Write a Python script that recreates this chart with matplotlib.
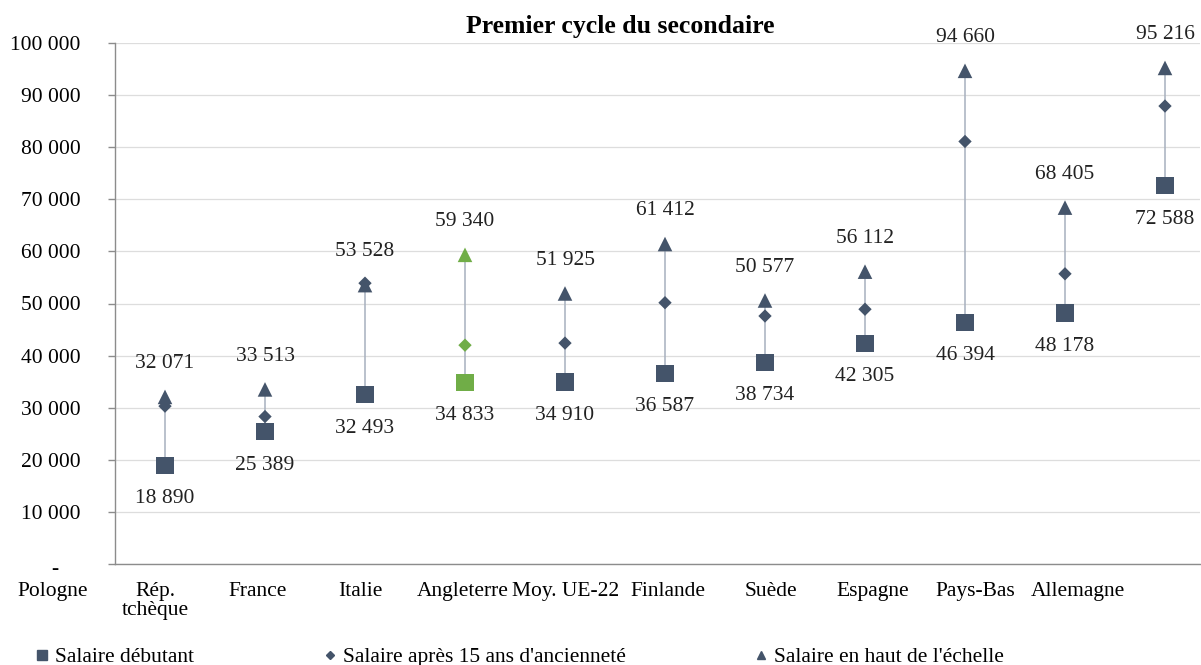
import numpy as np
import matplotlib.pyplot as plt
from matplotlib.lines import Line2D

# data
labels = ["Pologne", "Rép.\ntchèque", "France", "Italie", "Angleterre", "Moy. UE-22",
          "Finlande", "Suède", "Espagne", "Pays-Bas", "Allemagne"]
debutant = [18890, 25389, 32493, 34833, 34910, 36587, 38734, 42305, 46394, 48178, 72588]
apres15 = [30300, 28300, 53900, 42000, 42400, 50150, 47600, 48900, 81100, 55700, 87900]
haut = [32071, 33513, 53528, 59340, 51925, 61412, 50577, 56112, 94660, 68405, 95216]
highlight = 3  # Angleterre in green

blue = "#44546A"
green = "#70AD47"


def fmt(v):
    return f"{int(round(v)):,}".replace(",", " ")


def main():
    plt.rcParams['font.family'] = ['Liberation Serif', 'DejaVu Serif']
    fig = plt.figure(figsize=(12.01, 6.65), dpi=100)
    ax = fig.add_axes([115 / 1201, 1 - 564 / 665, 1085 / 1201, 521 / 665])

    x = np.arange(len(debutant))
    cols = [green if i == highlight else blue for i in x]

    # connectors
    ax.vlines(x, debutant, haut, color="#A7B0BE", lw=1.1, zorder=2)

    ax.scatter(x, debutant, marker="s", s=12.5 ** 2, c=cols, zorder=3, linewidths=0)
    ax.scatter(x, apres15, marker="D", s=6.8 ** 2, c=cols, zorder=4, linewidths=0)
    ax.scatter(x, haut, marker="^", s=10.5 ** 2, c=cols, zorder=5, linewidths=0)

    # value labels
    for xi, lo, hi in zip(x, debutant, haut):
        ax.annotate(fmt(hi), (xi, hi), xytext=(0, 24), textcoords="offset points",
                    ha="center", va="center", fontsize=15.5, color="#222222")
        ax.annotate(fmt(lo), (xi, lo), xytext=(0, -24), textcoords="offset points",
                    ha="center", va="center", fontsize=15.5, color="#222222")

    ax.set_xlim(-0.5, 10.35)
    ax.set_ylim(0, 100000)
    ax.set_yticks(np.arange(0, 100001, 10000))
    ax.set_yticklabels(["" if v == 0 else fmt(v) for v in ax.get_yticks()], fontsize=15.5)
    ax.annotate("-", (0, 0), xycoords=("axes fraction", "data"), xytext=(-43, -4),
                textcoords="offset points", ha="center", va="center", fontsize=15.5)
    ax.tick_params(axis="y", length=5, pad=20, color="#8C8C8C", width=1)
    ax.set_xticks([])
    ax.grid(axis="y", color="#DDDDDD", lw=0.9)
    ax.set_axisbelow(True)
    for s in ["top", "right"]:
        ax.spines[s].set_visible(False)
    for s in ["left", "bottom"]:
        ax.spines[s].set_color("#8C8C8C")
        ax.spines[s].set_linewidth(1)

    # category labels (evenly spaced, slightly off the points as in the original)
    lab_x = np.arange(len(labels)) * 1.025 - 1.12
    for lx, name in zip(lab_x, labels):
        ax.annotate(name, (lx, 0), xycoords=("data", "axes fraction"), xytext=(0, -13),
                    textcoords="offset points", ha="center", va="top", fontsize=15.5,
                    linespacing=1.0, annotation_clip=False)

    fig.text(620 / 1201, 1 - 26 / 665, "Premier cycle du secondaire", ha="center",
             va="center", fontsize=18.5, fontweight="bold")

    handles = [Line2D([], [], marker="s", color=blue, ls="none", markersize=7),
               Line2D([], [], marker="D", color=blue, ls="none", markersize=4.5),
               Line2D([], [], marker="^", color=blue, ls="none", markersize=6)]
    fig.legend(handles, ["Salaire débutant", "Salaire après 15 ans d'ancienneté",
                         "Salaire en haut de l'échelle"],
               loc="center left", bbox_to_anchor=(36 / 1201, 8 / 665), ncol=3,
               frameon=False, fontsize=15.5, handlelength=0.6, handletextpad=0.3,
               columnspacing=6.0, borderpad=0, borderaxespad=0)

    fig.savefig("out.png", dpi=100)


main()
